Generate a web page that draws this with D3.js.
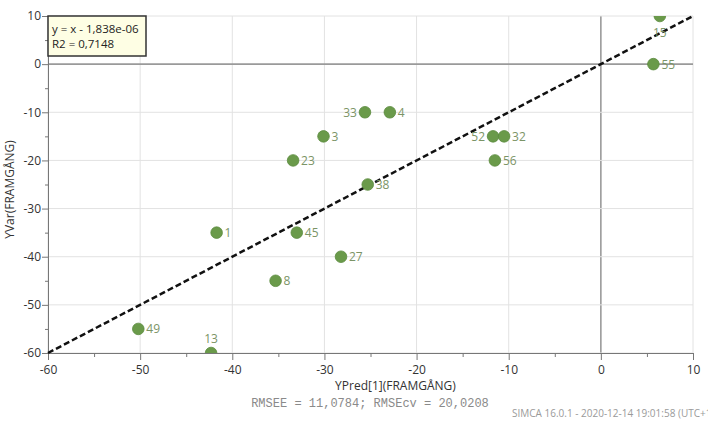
<!DOCTYPE html>
<html>
<head>
<meta charset="utf-8">
<script src="https://cdn.jsdelivr.net/npm/d3@7"></script>
<style>
  body { margin: 0; background: #fff; }
  svg { display: block; font-family: "Open Sans", "Noto Sans", sans-serif; }
</style>
</head>
<body>
<svg id="chart" width="708" height="425"></svg>
<script>
// observation ids, predicted and observed values
var obsIds  = ["15", "55", "52", "32", "56", "33", "4", "3", "23", "38", "1", "45", "27", "8", "49", "13"]
var predVal = [6.4, 5.7, -11.7, -10.5, -11.5, -25.6, -22.9, -30.1, -33.4, -25.3, -41.7, -33.0, -28.2, -35.3, -50.2, -42.3]
var obsVal  = [10, 0, -15, -15, -20, -10, -10, -15, -20, -25, -35, -35, -40, -45, -55, -60]
// where the label sits relative to the point
var labelPos = ["below", "right", "left", "right", "right", "left", "right", "right", "right", "right", "right", "right", "right", "right", "right", "above"]
var xTicks = [-60, -50, -40, -30, -20, -10, 0, 10]
var yTicks = [10, 0, -10, -20, -30, -40, -50, -60]
var fitText = ["y = x - 1,838e-06", "R2 = 0,7148"]

var svg = d3.select('#chart')
var pLeft = 48, pRight = 693, pTop = 16, pBottom = 353

var x = d3.scaleLinear().domain([-60, 10]).range([pLeft, pRight])
var y = d3.scaleLinear().domain([-60, 10]).range([pBottom, pTop])

svg.append('clipPath').attr('id', 'plotclip')
    .append('rect')
    .attr('x', pLeft).attr('y', pTop)
    .attr('width', pRight - pLeft).attr('height', pBottom - pTop)

// grid
svg.append('g').selectAll('line')
    .data(xTicks)
    .enter().append('line')
    .attr('x1', function(d) {return x(d);})
    .attr('x2', function(d) {return x(d);})
    .attr('y1', pTop).attr('y2', pBottom)
    .attr('stroke', function(d) {return d === 0 ? '#9a9a9a' : '#e2e2e2';})
    .attr('stroke-width', function(d) {return d === 0 ? 1.6 : 1;})

svg.append('g').selectAll('line')
    .data(yTicks)
    .enter().append('line')
    .attr('y1', function(d) {return y(d);})
    .attr('y2', function(d) {return y(d);})
    .attr('x1', pLeft).attr('x2', pRight)
    .attr('stroke', function(d) {return d === 0 ? '#9a9a9a' : '#e2e2e2';})
    .attr('stroke-width', function(d) {return d === 0 ? 1.6 : 1;})

// axes
var xAxis = svg.append('g')
    .attr('transform', 'translate(0,' + pBottom + ')')
    .call(d3.axisBottom(x).tickValues(d3.range(-60, 11, 5)).tickSize(0).tickFormat(''))
xAxis.selectAll('.tick line')
    .attr('y2', function(d) {return d % 10 === 0 ? 7 : 4;})
    .attr('stroke', '#777')
xAxis.select('.domain').attr('stroke', '#777')
xAxis.selectAll('.tick').filter(function(d) {return d % 10 === 0;})
    .select('text')
    .text(function(d) {return d;})
    .attr('y', 12)
    .attr('fill', '#333')
    .style('font-size', '12px')
    .style('font-family', '"Open Sans", sans-serif')

var yAxis = svg.append('g')
    .attr('transform', 'translate(' + pLeft + ',0)')
    .call(d3.axisLeft(y).tickValues(d3.range(-60, 11, 5)).tickSize(0).tickFormat(''))
yAxis.selectAll('.tick line')
    .attr('x2', function(d) {return d % 10 === 0 ? -6 : -3;})
    .attr('stroke', '#777')
yAxis.select('.domain').attr('stroke', '#777')
yAxis.selectAll('.tick').filter(function(d) {return d % 10 === 0;})
    .select('text')
    .text(function(d) {return d;})
    .attr('x', -7)
    .attr('fill', '#333')
    .style('font-size', '12px')
    .style('font-family', '"Open Sans", sans-serif')

// fit line
svg.append('line')
    .attr('x1', x(-60)).attr('y1', y(-60))
    .attr('x2', x(10)).attr('y2', y(10))
    .attr('stroke', '#111')
    .attr('stroke-width', 2.5)
    .attr('stroke-dasharray', '6,3')

// points
var pts = svg.append('g').attr('clip-path', 'url(#plotclip)')
pts.selectAll('circle')
    .data(obsIds)
    .enter().append('circle')
    .attr('cx', function(d,i) {return x(predVal[i]);})
    .attr('cy', function(d,i) {return y(obsVal[i]);})
    .attr('r', 5.8)
    .attr('fill', '#6a9a4a')
    .attr('stroke', '#5b8a3e')
    .attr('stroke-width', 0.8)

svg.append('g').selectAll('text')
    .data(obsIds)
    .enter().append('text')
    .attr('x', function(d,i) {
        var p = labelPos[i]
        if (p === 'right') return x(predVal[i]) + 8
        if (p === 'left') return x(predVal[i]) - 8
        return x(predVal[i])
    })
    .attr('y', function(d,i) {
        var p = labelPos[i]
        if (p === 'above') return y(obsVal[i]) - 10
        if (p === 'below') return y(obsVal[i]) + 21
        return y(obsVal[i]) + 4.5
    })
    .attr('text-anchor', function(d,i) {
        var p = labelPos[i]
        return p === 'right' ? 'start' : (p === 'left' ? 'end' : 'middle')
    })
    .attr('fill', '#7b9466')
    .style('font-size', '12px')
    .text(function(d) {return d;})

// fit box
var box = svg.append('g')
box.append('rect')
    .attr('x', pLeft).attr('y', pTop)
    .attr('width', 98).attr('height', 40)
    .attr('fill', '#fefee4')
    .attr('stroke', '#333')
    .attr('stroke-width', 1.5)
box.selectAll('text')
    .data(fitText)
    .enter().append('text')
    .attr('x', pLeft + 4)
    .attr('y', function(d,i) {return pTop + 17 + i * 15;})
    .attr('fill', '#222')
    .style('font-size', '11.5px')
    .text(function(d) {return d;})

// axis titles
svg.append('text')
    .attr('x', (pLeft + pRight) / 2 + 25).attr('y', 390)
    .attr('text-anchor', 'middle')
    .attr('fill', '#333')
    .style('font-size', '12px')
    .text('YPred[1](FRAMGÅNG)')

svg.append('text')
    .attr('transform', 'translate(14,' + ((pTop + pBottom) / 2 + 5) + ') rotate(-90)')
    .attr('text-anchor', 'middle')
    .attr('fill', '#333')
    .style('font-size', '12px')
    .text('YVar(FRAMGÅNG)')

svg.append('text')
    .attr('x', 370).attr('y', 407)
    .attr('text-anchor', 'middle')
    .attr('fill', '#8a8a8a')
    .style('font-size', '12px')
    .style('font-family', '"Liberation Mono", "DejaVu Sans Mono", monospace')
    .text('RMSEE = 11,0784; RMSEcv = 20,0208')

svg.append('text')
    .attr('x', 512).attr('y', 417)
    .attr('fill', '#9a9a9a')
    .style('font-size', '10px')
    .text('SIMCA 16.0.1 - 2020-12-14 19:01:58 (UTC+1')
</script>
</body>
</html>
